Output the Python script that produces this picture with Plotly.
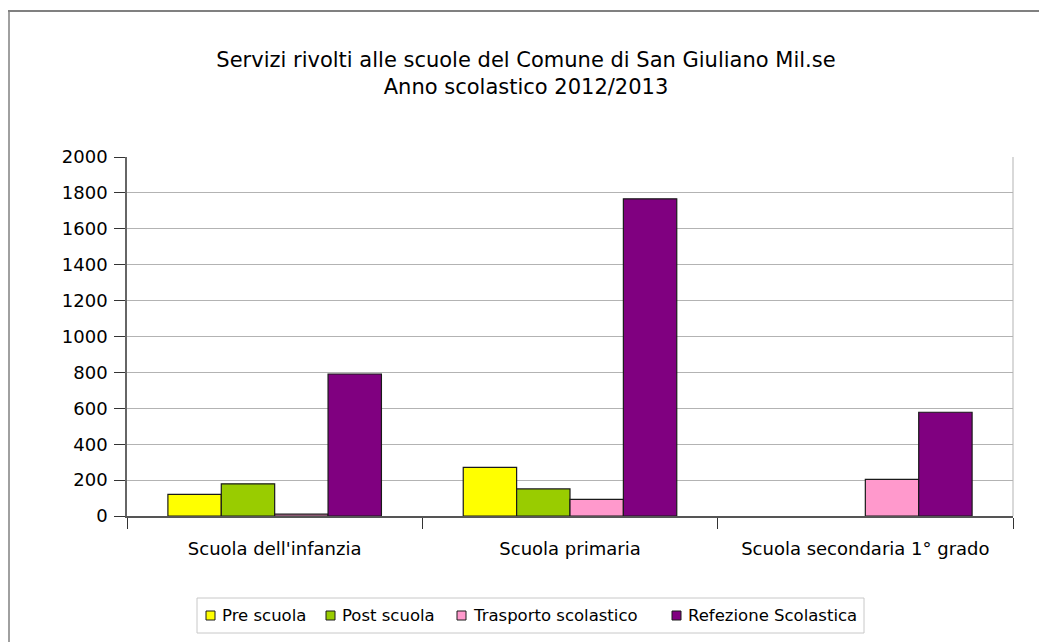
import plotly.graph_objects as go

categories = ["Scuola dell'infanzia", "Scuola primaria", "Scuola secondaria 1° grado"]
pre_scuola = [121, 271, None]
post_scuola = [179, 151, None]
trasporto = [11, 93, 204]
refezione = [791, 1767, 578]

series_names = ['Pre scuola', 'Post scuola', 'Trasporto scolastico', 'Refezione Scolastica']
series_values = [pre_scuola, post_scuola, trasporto, refezione]
series_colors = ['#ffff00', '#99cc00', '#ff99cc', '#800080']

y_ticks = list(range(0, 2001, 200))

W, H = 1047, 642
OFF = 8  # the html body adds an 8px margin around the figure
L, R, T, B = 119, 42, 149, 134
pw = W - L - R
ph = H - T - B
FONT = 'DejaVu Sans'


# page pixel -> paper coords
def px_x(x):
    return (x - OFF - L) / pw


def px_y(y):
    return (H - B - (y - OFF)) / ph


fig = go.Figure()
for name, vals, col in zip(series_names, series_values, series_colors):
    fig.add_trace(go.Bar(x=categories, y=vals, name=name, marker_color=col,
                         marker_line_color='#1a1a1a', marker_line_width=1.2,
                         showlegend=False))

shapes = []
# outer frame (only top and left edges are visible)
shapes.append(dict(type='line', xref='paper', yref='paper', x0=px_x(8), x1=px_x(W + 10),
                   y0=px_y(11), y1=px_y(11), line=dict(color='#808080', width=2)))
shapes.append(dict(type='line', xref='paper', yref='paper', x0=px_x(9), x1=px_x(9),
                   y0=px_y(11), y1=px_y(H + 10), line=dict(color='#808080', width=1.5)))
# right edge of the plot area
shapes.append(dict(type='line', xref='paper', yref='paper', x0=1, x1=1, y0=0, y1=1,
                   line=dict(color='#b3b3b3', width=1)))

# legend drawn by hand to match the compact original
shapes.append(dict(type='rect', xref='paper', yref='paper', x0=px_x(197), x1=px_x(864),
                   y0=px_y(598), y1=px_y(633), line=dict(color='#c8c8c8', width=1),
                   fillcolor='white'))
text_x = [220, 340, 471, 686]
annotations = []
for name, col, tx in zip(series_names, series_colors, text_x):
    shapes.append(dict(type='rect', xref='paper', yref='paper', x0=px_x(tx - 14), x1=px_x(tx - 5),
                       y0=px_y(620), y1=px_y(611), line=dict(color='#1a1a1a', width=1),
                       fillcolor=col))
    annotations.append(dict(text=name, xref='paper', yref='paper', x=px_x(tx), y=px_y(615.5),
                            xanchor='left', yanchor='middle', showarrow=False,
                            font=dict(family=FONT, size=16.5, color='black')))

fig.update_layout(
    width=W, height=H,
    margin=dict(l=L, r=R, t=T, b=B),
    paper_bgcolor='white', plot_bgcolor='white',
    title=dict(text='Servizi rivolti alle scuole del Comune di San Giuliano Mil.se<br>Anno scolastico 2012/2013',
               x=(526 - OFF) / W, xref='container', xanchor='center',
               y=1 - 59 / H, yref='container', yanchor='top',
               font=dict(family=FONT, size=21, color='black')),
    font=dict(family=FONT, size=18, color='black'),
    bargap=0.277, bargroupgap=0,
    shapes=shapes,
    annotations=annotations,
)
fig.update_xaxes(type='category', tickson='boundaries', ticks='outside', ticklen=11,
                 tickcolor='#333333', showline=True, linecolor='#555555', linewidth=1.5,
                 showgrid=False, ticklabelstandoff=16,
                 tickfont=dict(family=FONT, size=18, color='black'))
fig.update_yaxes(range=[0, 2000], tickvals=y_ticks, ticks='outside', ticklen=11,
                 tickcolor='#333333', showline=True, linecolor='#666666', linewidth=1.5,
                 showgrid=True, gridcolor='#b3b3b3', gridwidth=1, zeroline=False,
                 ticklabelstandoff=3,
                 tickfont=dict(family=FONT, size=18, color='black'))

fig.write_html('out.html')
